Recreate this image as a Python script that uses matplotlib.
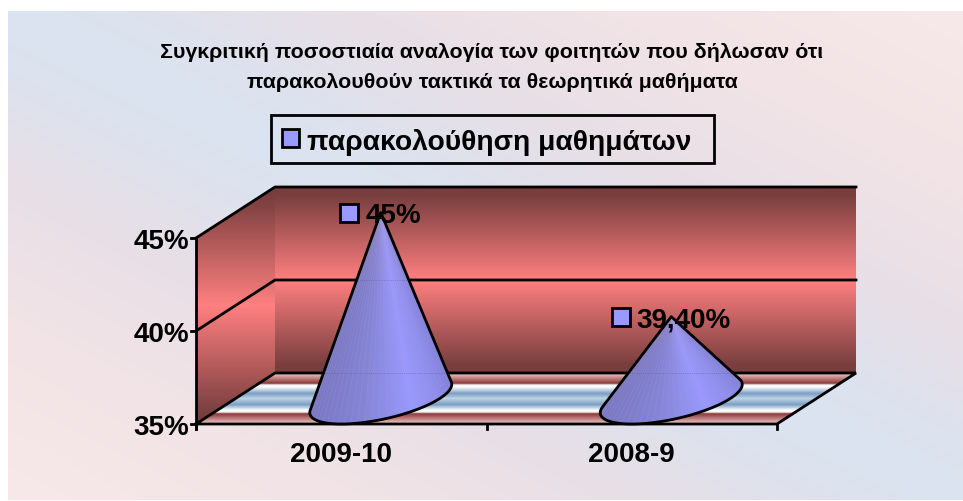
#!/usr/bin/env python3
import numpy as np
import matplotlib
matplotlib.use('Agg')
import matplotlib.pyplot as plt
from matplotlib.colors import to_rgb
from matplotlib.patches import Polygon, Rectangle

plt.rcParams['font.family'] = ['Liberation Sans', 'DejaVu Sans']
plt.rcParams['font.weight'] = 'bold'

# data
title_lines = ['Συγκριτική ποσοστιαία αναλογία των φοιτητών που δήλωσαν ότι',
               'παρακολουθούν τακτικά τα θεωρητικά μαθήματα']
series_name = 'παρακολούθηση μαθημάτων'
categories = ['2009-10', '2008-9']
values = [45, 39.4]
value_labels = ['45%', '39,40%']
y_ticks = [35, 40, 45]
y_tick_labels = ['35%', '40%', '45%']

W, H = 963, 502
# geometry of the fake 3d box, in pixels
X0, X1 = 196, 777
Y35, Y45 = 425, 239
DX, DY = 79, -51
CONE_A = 59  # half width of the base along x


def val_y(v):
    return Y35 + (v - y_ticks[0]) / (y_ticks[-1] - y_ticks[0]) * (Y45 - Y35)


def ramp(t, stops, cols):
    rgb = np.array([to_rgb(c) for c in cols])
    return np.dstack([np.interp(t, stops, rgb[:, i]) for i in range(3)])


fig = plt.figure(figsize=(W / 100, H / 100), dpi=100, facecolor='white')
ax = fig.add_axes([0, 0, 1, 1])
ax.axis('off')
xx, yy = np.meshgrid(np.arange(W) + 0.5, np.arange(H) + 0.5)
ext = (0, W, H, 0)


def paint(rgb, poly, z):
    im = ax.imshow(rgb, extent=ext, aspect='auto', zorder=z, interpolation='bilinear')
    patch = Polygon(poly, closed=True, transform=ax.transData)
    im.set_clip_path(patch)


# background, blue along the main diagonal and pink in the other two corners
bg_t = np.abs((yy - 12) - (xx - 8) * 489 / 955) / 489
bg = ramp(bg_t, [0, 0.12, 0.35, 0.65, 1], ['#dae4f0', '#dde2ee', '#e8dfe6', '#f2e4e6', '#f7e9e9'])
paint(bg, [(8, 12), (W, 12), (W, H - 1), (8, H - 1)], 0)

# walls
wall_stops = [0, 0.05, 0.5, 0.95, 1]
wall_cols = ['#773c3c', '#7b3f3f', '#ff8080', '#7b3f3f', '#773c3c']
back_t = (yy - (Y45 + DY)) / (Y35 - Y45)
paint(ramp(back_t, wall_stops, wall_cols),
      [(X0 + DX, Y45 + DY), (X1 + DX, Y45 + DY), (X1 + DX, Y35 + DY), (X0 + DX, Y35 + DY)], 1)
# side wall gradient runs over its whole bounding box, no shear
side_t = (yy - (Y45 + DY)) / (Y35 - Y45 - DY)
paint(ramp(side_t, wall_stops, wall_cols),
      [(X0, Y45), (X0 + DX, Y45 + DY), (X0 + DX, Y35 + DY), (X0, Y35)], 1)

# floor
floor_t = (yy - (Y35 + DY)) / -DY
paint(ramp(floor_t,
           [0, 0.04, 0.2, 0.235, 0.27, 0.4, 0.5, 0.62, 0.73, 0.765, 0.8, 0.96, 1],
           ['#f0d8d8', '#e0b0b0', '#8e3a3a', '#f4f4f4', '#ffffff', '#7c9fc4', '#bcd2e4', '#7c9fc4',
            '#ffffff', '#f4f4f4', '#8e3a3a', '#e0b0b0', '#f0d8d8']),
      [(X0, Y35), (X1, Y35), (X1 + DX, Y35 + DY), (X0 + DX, Y35 + DY)], 1)

# box lines
LW = 2
for v in y_ticks[1:]:
    y = val_y(v)
    ax.plot([X0, X0 + DX, X1 + DX], [y, y + DY, y + DY], color='black', lw=LW, zorder=2,
            solid_joinstyle='miter')
ax.plot([X0, X0 + DX, X1 + DX, X1, X0], [Y35, Y35 + DY, Y35 + DY, Y35, Y35],
        color='black', lw=LW, zorder=2, solid_joinstyle='miter')
ax.plot([X0, X0], [Y45, Y35 + 5], color='black', lw=LW, zorder=2)
cat_w = (X1 - X0) / len(categories)
for i in range(len(categories) + 1):
    ax.plot([X0 + i * cat_w] * 2, [Y35, Y35 + 5], color='black', lw=LW, zorder=2)
for v, lab in zip(y_ticks, y_tick_labels):
    ax.plot([X0 - 5, X0], [val_y(v)] * 2, color='black', lw=LW, zorder=2)
    ax.text(X0 - 7, val_y(v) + 3, lab, ha='right', va='center', fontsize=20, color='black')
for i, lab in enumerate(categories):
    ax.text(X0 + (i + 0.5) * cat_w, 455, lab, ha='center', va='center', fontsize=20, color='black')

# cones
fig.canvas.draw()
rend = fig.canvas.get_renderer()
for i, v in enumerate(values):
    cx = X0 + (i + 0.5) * cat_w + DX / 2
    cy = Y35 + DY / 2
    tip_x, tip_y = cx, val_y(v) + DY / 2
    t = np.linspace(0, 2 * np.pi, 361)[:-1]
    ex = cx + np.cos(t) * CONE_A + np.sin(t) * DX / 2
    ey = cy + np.sin(t) * DY / 2
    ang = np.arctan2(ex - tip_x, ey - tip_y)
    i_l, i_r = int(np.argmin(ang)), int(np.argmax(ang))
    idx = np.arange(i_l, i_r + (360 if i_r < i_l else 0) + 1) % 360
    poly = [(tip_x, tip_y)] + list(zip(ex[idx], ey[idx]))

    s = (np.arctan2(xx - tip_x, yy - tip_y + 0.01) - ang[i_l]) / (ang[i_r] - ang[i_l])
    paint(ramp(s, [0, 0.35, 0.68, 0.85, 1], ['#7878c4', '#8585d8', '#9999ff', '#9090f0', '#8080dc']), poly, 3)

    clip = Polygon(poly, closed=True, transform=ax.transData)
    # faint streaks the original gets from its gradient steps
    for k in idx[::6]:
        ln, = ax.plot([tip_x, ex[k]], [tip_y, ey[k]], color='#b79ab8', lw=0.4, alpha=0.35, zorder=3.1)
        ln.set_clip_path(clip)
    for y in (val_y(y_ticks[1]) + DY, Y35 + DY):
        ln, = ax.plot([cx - 90, cx + 90], [y, y], color='#555588', lw=0.6, ls=':', alpha=0.6, zorder=3.1)
        ln.set_clip_path(clip)
    ax.add_patch(Polygon(poly, closed=True, fill=False, edgecolor='black', lw=LW,
                         joinstyle='round', zorder=3.2))

    # data label: key square + text, centred over the tip
    txt = ax.text(0, tip_y + 3, value_labels[i], ha='left', va='center', fontsize=20, color='black', zorder=5)
    tw = txt.get_window_extent(rend).width
    left = tip_x - (19 + 6 + tw) / 2
    txt.set_x(left + 25)
    ax.add_patch(Rectangle((left, tip_y - 9), 18, 18, facecolor='#9999ff', edgecolor='black', lw=LW, zorder=5))

# title
ax.text(492, 53, title_lines[0], ha='center', va='center', fontsize=15.4, color='black')
ax.text(492, 83, title_lines[1], ha='center', va='center', fontsize=15.4, color='black')

# legend
ax.add_patch(Rectangle((271, 116), 443, 48, facecolor='none', edgecolor='black', lw=LW, zorder=5))
ax.add_patch(Rectangle((282, 130), 17, 18, facecolor='#9999ff', edgecolor='black', lw=LW, zorder=5))
ax.text(307, 143, series_name, ha='left', va='center', fontsize=20.3, color='black', zorder=5)

ax.set_xlim(0, W)
ax.set_ylim(H, 0)
fig.savefig('out.png', dpi=100, facecolor='white')
